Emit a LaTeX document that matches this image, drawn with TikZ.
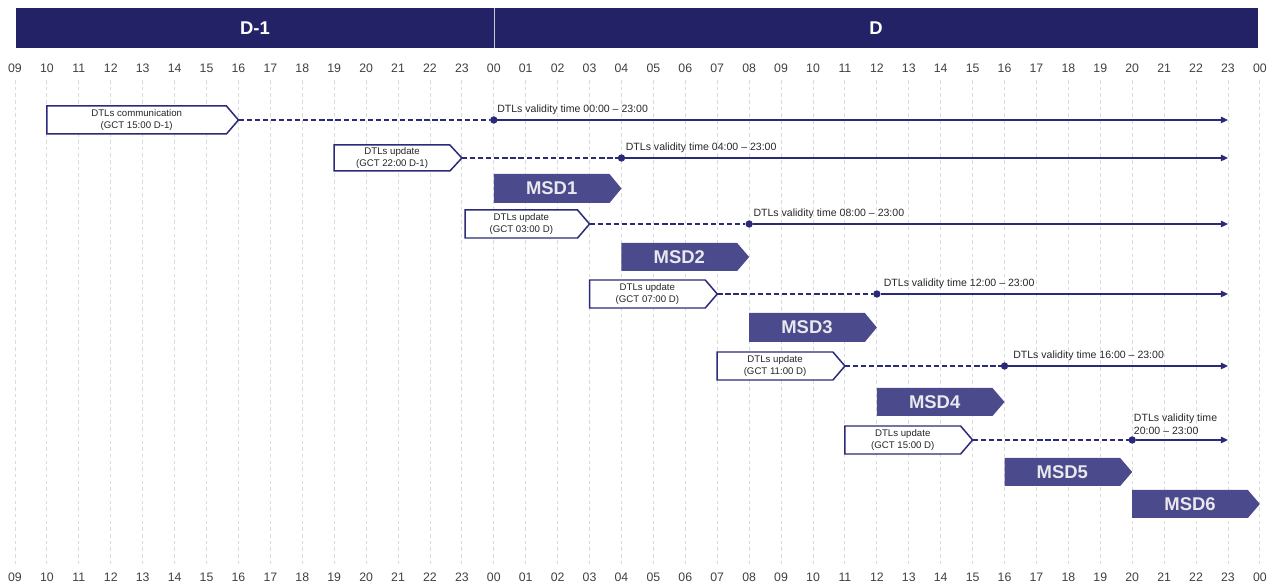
\documentclass[tikz,border=0pt]{standalone}
\usepackage{fontspec}
\setmainfont{Liberation Sans}
\usetikzlibrary{arrows.meta}

\definecolor{hdrblue}{HTML}{232266}
\definecolor{msdblue}{HTML}{4A4A8C}
\definecolor{navy}{HTML}{2A2A78}
\definecolor{gridgray}{HTML}{DADADA}
\definecolor{msdtext}{HTML}{E8E8EE}

% x position of an hour mark (0 = 09:00 on D-1, 39 = 00:00 on D+1)
\newcommand\hx[1]{15+31.92*(#1)}

% outlined DTL box with pointed right end: name, start mark, tip mark, top y, bottom y, text
\newcommand\dtlbox[6]{%
  \draw[dtlframe] ({\hx{#2}},#4) -- ({\hx{#3}-12},#4) -- ({\hx{#3}},{(#4+#5)/2})
    -- ({\hx{#3}-12},#5) -- ({\hx{#2}},#5) -- cycle;
  \node[dtltext] (#1) at ({(\hx{#2}+\hx{#3}-12)/2},{(#4+#5)/2}) {#6};
  \coordinate (#1-tip) at ({\hx{#3}},{(#4+#5)/2});
}

% filled MSD box: name, start mark, tip mark, top y, bottom y, text
\newcommand\msdbox[6]{%
  \fill[msdblue] ({\hx{#2}},#4) -- ({\hx{#3}-12},#4) -- ({\hx{#3}},{(#4+#5)/2})
    -- ({\hx{#3}-12},#5) -- ({\hx{#2}},#5) -- cycle;
  \node[msdtxt] (#1) at ({(\hx{#2}+\hx{#3}-12)/2},{(#4+#5)/2}) {#6};
}

% validity line: name, box tip, start mark of validity, y
\newcommand\validity[4]{%
  \node[vdot] (#1-dot) at ({\hx{#3}},#4) {};
  \coordinate (#1-end) at ({\hx{38}},#4);
  \draw[dashconn] (#2) -- (#1-dot);
  \draw[solidconn] (#1-dot) -- (#1-end);
}

\begin{document}
\begin{tikzpicture}[x=0.02cm,y=-0.02cm,
  every node/.style={inner sep=0pt, outer sep=0pt},
  hourlbl/.style={font=\fontsize{7}{8}\selectfont, text=black!75},
  dtlframe/.style={draw=navy, line width=0.85pt, fill=white, line join=miter},
  dtltext/.style={font=\fontsize{5.5}{6.6}\selectfont, align=center, text=black!85},
  msdtxt/.style={font=\fontsize{10.5}{12}\selectfont\bfseries, text=msdtext},
  vdot/.style={circle, fill=navy, minimum size=4.2pt},
  dashconn/.style={draw=navy, line width=0.85pt, dash pattern=on 3pt off 1.6pt},
  solidconn/.style={draw=navy, line width=0.85pt, -{Triangle[length=4pt,width=3.6pt]}},
  validlbl/.style={font=\fontsize{6}{7.2}\selectfont, text=black!85, align=left},
  hdrtxt/.style={font=\fontsize{10.5}{12}\selectfont\bfseries, text=white}]

\useasboundingbox (0,0) rectangle (1272,587);

% day header
\fill[hdrblue] (16,8) rectangle (1258,48);
\draw[white!75!hdrblue, line width=0.5pt] (494,8) -- (494,48);
\node[hdrtxt] (dminus) at (255,28) {D-1};
\node[hdrtxt] (dday) at (876,28) {D};

% hour grid and labels
\foreach \i in {0,...,39} {
  \pgfmathtruncatemacro\hh{mod(\i+9,24)}
  \draw[gridgray, line width=0.5pt, dash pattern=on 2pt off 1.8pt] ({\hx{\i}},80) -- ({\hx{\i}},566);
  \node[hourlbl] (top\i) at ({\hx{\i}},68) {\ifnum\hh<10 0\fi\hh};
  \node[hourlbl] (bot\i) at ({\hx{\i}},577) {\ifnum\hh<10 0\fi\hh};
}

% DTLs communication and updates
\dtlbox{c0}{1}{7}{106}{134}{DTLs communication\\(GCT 15:00 D-1)}
\validity{v0}{c0-tip}{15}{120}
\node[validlbl, anchor=base west] (l0) at ([xshift=2pt,yshift=4.5pt]v0-dot.center) {DTLs validity time 00:00 -- 23:00};

\dtlbox{c1}{10}{14}{145}{171}{DTLs update\\(GCT 22:00 D-1)}
\validity{v1}{c1-tip}{19}{158}
\node[validlbl, anchor=base west] (l1) at ([xshift=2.5pt,yshift=4.5pt]v1-dot.center) {DTLs validity time 04:00 -- 23:00};

\msdbox{m1}{15}{19}{174}{203}{MSD1}

\dtlbox{c2}{14.1}{18}{210}{238}{DTLs update\\(GCT 03:00 D)}
\validity{v2}{c2-tip}{23}{224}
\node[validlbl, anchor=base west] (l2) at ([xshift=2.5pt,yshift=4.5pt]v2-dot.center) {DTLs validity time 08:00 -- 23:00};

\msdbox{m2}{19}{23}{243}{271}{MSD2}

\dtlbox{c3}{18}{22}{280}{308}{DTLs update\\(GCT 07:00 D)}
\validity{v3}{c3-tip}{27}{294}
\node[validlbl, anchor=base west] (l3) at ([xshift=4pt,yshift=4.5pt]v3-dot.center) {DTLs validity time 12:00 -- 23:00};

\msdbox{m3}{23}{27}{313}{342}{MSD3}

\dtlbox{c4}{22}{26}{352}{380}{DTLs update\\(GCT 11:00 D)}
\validity{v4}{c4-tip}{31}{366}
\node[validlbl, anchor=base west] (l4) at ([xshift=5pt,yshift=4.5pt]v4-dot.center) {DTLs validity time 16:00 -- 23:00};

\msdbox{m4}{27}{31}{388}{416}{MSD4}

\dtlbox{c5}{26}{30}{426}{454}{DTLs update\\(GCT 15:00 D)}
\validity{v5}{c5-tip}{35}{440}
\node[validlbl, anchor=south west] (l5) at ([xshift=1pt,yshift=3pt]v5-dot.center) {DTLs validity time\\20:00 -- 23:00};

\msdbox{m5}{31}{35}{458}{486}{MSD5}
\msdbox{m6}{35}{39}{490}{518}{MSD6}

\end{tikzpicture}
\end{document}
